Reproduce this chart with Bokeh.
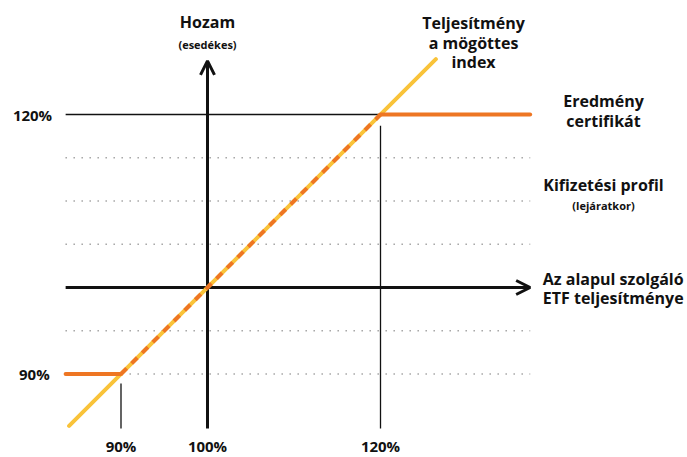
from bokeh.plotting import figure
from bokeh.models import Range1d, Arrow, OpenHead
from bokeh.core.properties import value
from bokeh.embed import file_html
from bokeh.resources import INLINE

# ---- data ----
index_x = [84.0, 126.4]
index_y = [84.0, 126.4]
floor_x = [83.6, 90.0]
floor_y = [90.0, 90.0]
linear_x = [90.0, 120.0]
linear_y = [90.0, 120.0]
cap_x = [120.0, 137.3]
cap_y = [120.0, 120.0]
grid_levels = [90, 95, 105, 110, 115]
x_tick_values = [90, 100, 120]
x_tick_labels = ["90%", "100%", "120%"]
y_tick_values = [90, 120]
y_tick_labels = ["90%", "120%"]

FONT = value("Open Sans")
BLACK = "#111111"
YELLOW = "#F9C33A"
ORANGE = "#EE7623"

X0, X1 = 76.07, 155.49
Y0, Y1 = 80.35, 133.18
AX_LEFT, AX_RIGHT = 83.6, 137.3
AX_BOTTOM, AX_TOP = 83.7, 126.2

p = figure(width=687, height=457, x_range=Range1d(X0, X1), y_range=Range1d(Y0, Y1),
           output_backend="svg", toolbar_location=None, min_border=0)
p.min_border_left = p.min_border_right = p.min_border_top = p.min_border_bottom = 0
p.axis.visible = False
p.grid.visible = False
p.outline_line_color = None
p.background_fill_color = "white"
p.border_fill_color = "white"

# dotted grid
for g in grid_levels:
    p.line([AX_LEFT, AX_RIGHT], [g, g], line_color="#777777", line_width=1.5, line_dash="1 7")

# 120% reference line
p.line([AX_LEFT, 120], [120, 120], line_color=BLACK, line_width=1.3)
# vertical tick lines
p.line([90, 90], [AX_BOTTOM, 88.9], line_color=BLACK, line_width=1.3)
p.line([120, 120], [AX_BOTTOM, 118.7], line_color=BLACK, line_width=1.3)

# axes with arrows
p.line([AX_LEFT, AX_RIGHT - 0.3], [100, 100], line_color=BLACK, line_width=3)
p.line([100, 100], [AX_BOTTOM, AX_TOP - 0.3], line_color=BLACK, line_width=3)
p.add_layout(Arrow(end=OpenHead(size=14, line_width=3, line_color=BLACK),
                   x_start=AX_RIGHT - 2, y_start=100, x_end=AX_RIGHT, y_end=100,
                   line_color=BLACK, line_width=3))
p.add_layout(Arrow(end=OpenHead(size=14, line_width=3, line_color=BLACK),
                   x_start=100, y_start=AX_TOP - 2, x_end=100, y_end=AX_TOP,
                   line_color=BLACK, line_width=3))

# index line
p.line(index_x, index_y, line_color=YELLOW, line_width=4, line_cap="round")
# certificate payoff
p.line(floor_x, floor_y, line_color=ORANGE, line_width=4, line_cap="round")
p.line(linear_x, linear_y, line_color=ORANGE, line_width=4, line_dash="8 7")
p.line(cap_x, cap_y, line_color=ORANGE, line_width=4, line_cap="round")

# tick labels
p.text(x=x_tick_values, y=[81.65] * 3, text=x_tick_labels, text_font=FONT,
       text_font_style="bold", text_font_size="15px", text_align="center",
       text_baseline="middle", text_color=BLACK)
p.text(x=[79.98, 79.77], y=y_tick_values, text=y_tick_labels, text_font=FONT,
       text_font_style="bold", text_font_size="15px", text_align="center",
       text_baseline="middle", text_color=BLACK)

def label(x, y, t, size):
    p.text(x=[x], y=[y], text=[t], text_font=FONT, text_font_style="bold",
           text_font_size=size, text_align="center", text_baseline="middle",
           text_color=BLACK)

label(100, 130.64, "Hozam", "16px")
label(100, 128.09, "(esedékes)", "11px")
label(130.75, 130.6, "Teljesítmény", "16px")
label(130.75, 128.3, "a mögöttes", "16px")
label(130.75, 126.1, "index", "16px")
label(145.78, 121.6, "Eredmény", "16px")
label(145.78, 119.3, "certifikát", "16px")
label(145.78, 111.8, "Kifizetési profil", "16px")
label(145.78, 109.5, "(lejáratkor)", "11px")
label(146.9, 101.0, "Az alapul szolgáló", "16px")
label(146.9, 98.8, "ETF teljesítménye", "16px")

open("out.html", "w").write(file_html(p, INLINE))
